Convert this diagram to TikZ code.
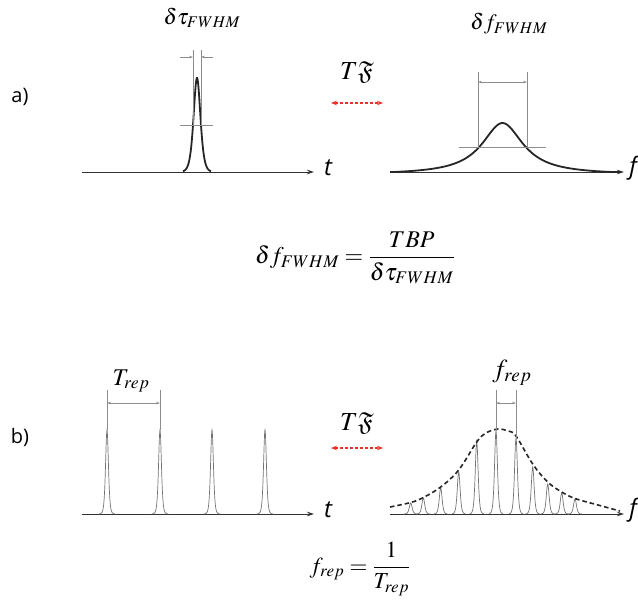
\documentclass[tikz,border=0pt]{standalone}
\usepackage{amsmath}
\usepackage{mathptmx}
\usepackage{amssymb}
\usepackage[no-math]{fontspec}
\newfontfamily\labfont{Open Sans}
\usetikzlibrary{arrows.meta}
\definecolor{tfred}{HTML}{E8322B}
\begin{document}
\begin{tikzpicture}[x=1pt,y=-1pt,
  axis/.style={draw=black!80, line width=0.8pt, -{Stealth[length=7pt,width=4.5pt]}},
  dim/.style={draw=black!45, line width=0.6pt},
  dimarr/.style={dim, {Stealth[length=4pt,width=2.6pt]}-{Stealth[length=4pt,width=2.6pt]}},
  dimone/.style={dim, -{Stealth[length=4pt,width=2.6pt]}},
  tfarrow/.style={draw=tfred, line width=1.1pt, dash pattern=on 3pt off 2pt,
     {Stealth[length=6pt,width=4.5pt]}-{Stealth[length=6pt,width=4.5pt]}},
  pulsea/.style={draw=black!85, line width=1.8pt},
  comb/.style={draw=black!55, line width=0.7pt},
  env/.style={draw=black!85, line width=1.6pt, dash pattern=on 4.5pt off 3pt},
  lab/.style={font=\labfont\fontsize{20}{22}\selectfont},
  axlab/.style={font=\labfont\itshape\fontsize{24}{26}\selectfont},
  mlab/.style={font=\fontsize{22}{26}\selectfont},
  mtf/.style={font=\fontsize{26}{30}\selectfont},
  mbig/.style={font=\fontsize{24}{28}\selectfont},
  mmid/.style={font=\fontsize{23}{27}\selectfont}]
\useasboundingbox (0,0) rectangle (638,608);

% ---------- panel a ----------
\node[lab] (la) at (20,97) {a)};
\coordinate (ta0) at (82,172); \coordinate (ta1) at (314,172);
\draw[axis] (ta0) -- (ta1);
\node[axlab] (tla) at (328,168) {t};
\draw[pulsea] plot[domain=-14:14,samples=90] ({197+\x},{172-94*4/(exp(\x/4.54)+exp(-\x/4.54))^2});
\coordinate (pa1) at (193,50); \coordinate (pa2) at (201,50);
\draw[dim] (pa1) -- (193,125);
\draw[dim] (pa2) -- (201,125);
\draw[dim] (180,125) -- (213,125);
\coordinate (da1) at (180,57); \coordinate (da2) at (213,57);
\draw[dimone] (da1) -- (193,57);
\draw[dimone] (da2) -- (201,57);
\node[mlab] (ltau) at (202,18) {$\delta\tau_{FWHM}$};

\coordinate (fa0) at (390,172); \coordinate (fa1) at (624,172);
\draw[axis] (fa0) -- (fa1);
\node[axlab] (fla) at (633,168) {f};
\draw[pulsea] plot[domain=-112.5:117.5,samples=180] ({502.5+\x},{172-49*max(0,(1/(1+(\x/25)^2)-0.05)/0.95)});
\draw[dim] (478,72) -- (478,147);
\draw[dim] (527,72) -- (527,147);
\draw[dim] (459,147) -- (546,147);
\coordinate (fw1) at (478,82); \coordinate (fw2) at (527,82);
\draw[dimarr] (fw1) -- (fw2);
\node[mlab] (lfw) at (509,24) {$\delta f_{FWHM}$};

\node[mtf] (tfa) at (357,72) {$T\mathfrak{F}$};
\coordinate (tfa1) at (331,103); \coordinate (tfa2) at (383,103);
\draw[tfarrow] (tfa1) -- (tfa2);

\node[mbig] (eqa) at (355,258) {$\delta f_{FWHM}=\dfrac{TBP}{\delta\tau_{FWHM}}$};

% ---------- panel b ----------
\node[lab] (lb) at (20,437) {b)};
\coordinate (tb0) at (82,514); \coordinate (tb1) at (314,514);
\draw[axis] (tb0) -- (tb1);
\node[axlab] (tlb) at (328,510) {t};
\foreach \xc in {107,160,212,265} {
  \draw[comb] plot[domain=-8:8,samples=61] ({\xc+\x},{514-84*4/(exp(\x/1.9)+exp(-\x/1.9))^2});
}
\draw[dim] (107,390) -- (107,430);
\draw[dim] (160,390) -- (160,430);
\coordinate (tr1) at (107,403); \coordinate (tr2) at (160,403);
\draw[dimarr] (tr1) -- (tr2);
\node[mbig] (ltrep) at (131,381) {$T_{rep}$};

\coordinate (fb0) at (390,514); \coordinate (fb1) at (624,514);
\draw[axis] (fb0) -- (fb1);
\node[axlab] (flb) at (633,510) {f};
\foreach \xc/\yt in {410.7/503,423.3/498,440.7/488,458.7/472,476.7/441,496/431,516/438,532.7/467,547.7/484,561.7/493,575/499} {
  \draw[comb] plot[domain=-7:7,samples=55] ({\xc+\x},{514-(514-\yt)*4/(exp(\x/1.9)+exp(-\x/1.9))^2});
}
\draw[env] plot[smooth,tension=0.6] coordinates {(390,507) (410.7,502.5) (423.3,497.5) (440.7,487) (458.7,470) (476.7,442) (486,433) (498,429) (508,431) (516,436) (532.7,464) (547.7,482) (561.7,492) (575,498.5) (598,505) (620,511)};
\draw[dim] (496,390) -- (496,431);
\draw[dim] (516,390) -- (516,438);
\coordinate (fr1) at (496,403); \coordinate (fr2) at (516,403);
\draw[dimarr] (fr1) -- (fr2);
\node[mtf] (lfrep) at (512,373) {$f_{rep}$};

\node[mtf] (tfb) at (357,423) {$T\mathfrak{F}$};
\coordinate (tfb1) at (331,448); \coordinate (tfb2) at (383,448);
\draw[tfarrow] (tfb1) -- (tfb2);

\node[mmid] (eqb) at (360,569) {$f_{rep}=\dfrac{1}{T_{rep}}$};
\end{tikzpicture}
\end{document}
